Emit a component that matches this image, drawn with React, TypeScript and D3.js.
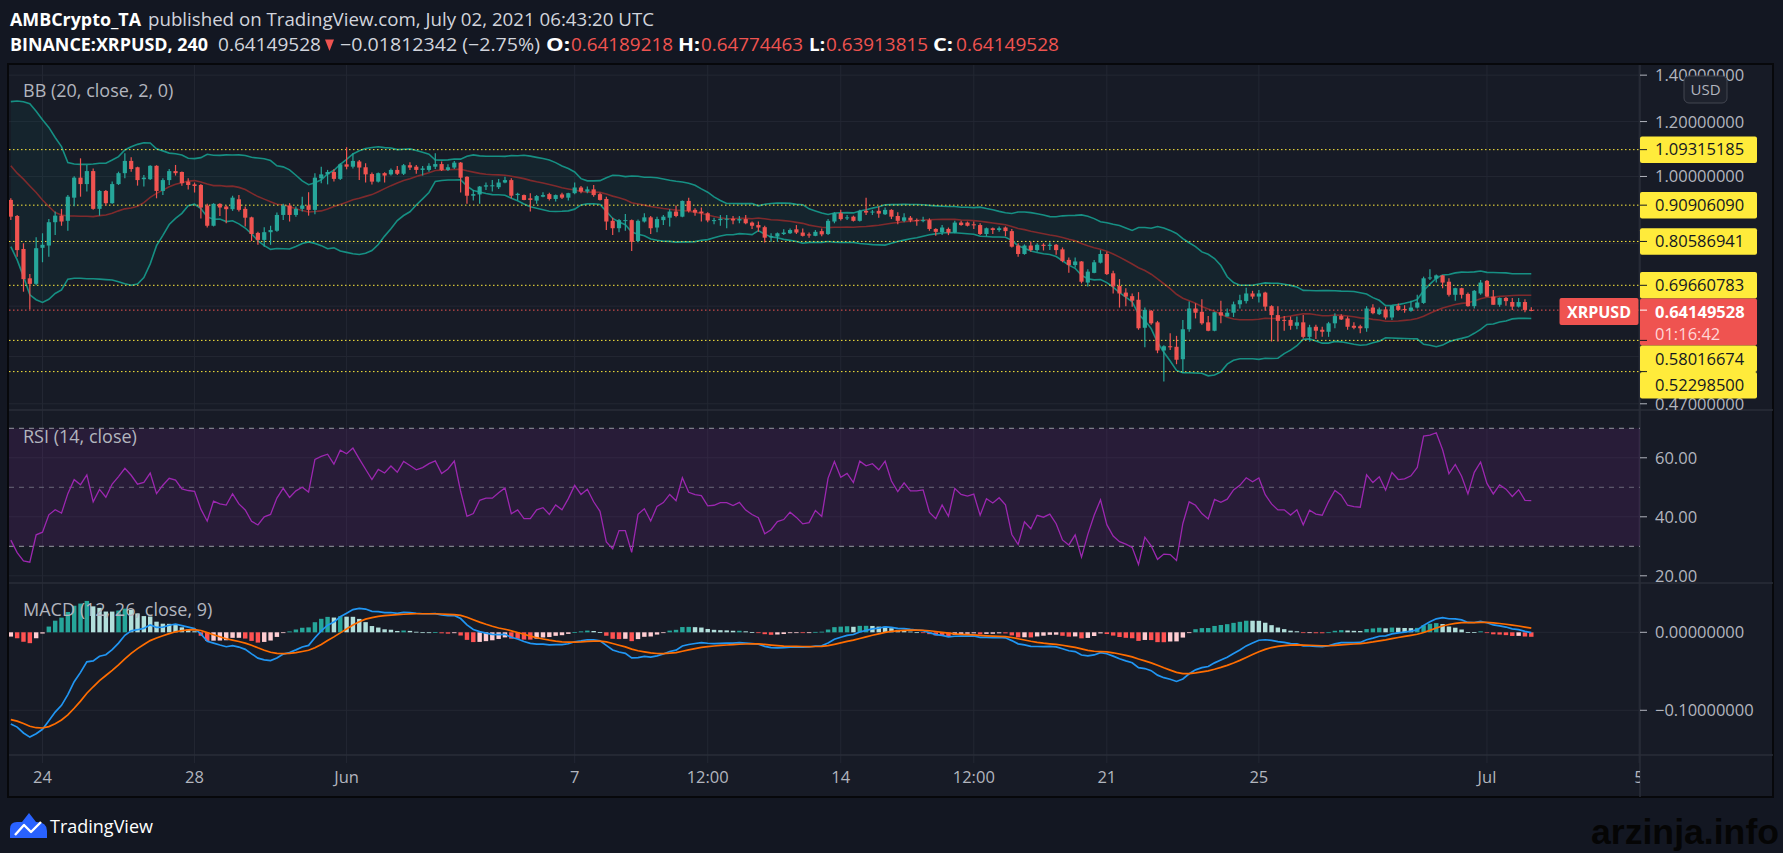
import { useEffect } from 'react';
import * as d3 from 'd3';

// XRPUSD 4h bars, first bar opens 2021-05-23 04:00 UTC
const firstBar = Date.UTC(2021, 4, 23, 4);
const barMs = 4 * 3600 * 1000;

const opens = [
  0.925, 0.877, 0.786, 0.713, 0.700, 0.789, 0.795, 0.859, 0.878, 0.863,
  0.932, 0.996, 0.975, 1.018, 0.898, 0.953, 0.915, 0.975, 1.011, 1.053,
  1.031, 0.991, 0.991, 1.036, 0.953, 0.988, 1.018, 1.015, 0.983, 0.974,
  0.972, 0.908, 0.849, 0.913, 0.905, 0.897, 0.927, 0.898, 0.873, 0.829,
  0.810, 0.831, 0.835, 0.880, 0.908, 0.880, 0.898, 0.908, 0.895, 0.994,
  1.007, 1.015, 0.992, 1.041, 1.033, 1.051, 1.031, 1.008, 0.983, 1.011,
  1.007, 1.022, 1.009, 1.038, 1.033, 1.022, 1.022, 1.033, 1.042, 1.022,
  1.030, 1.047, 0.999, 0.938, 0.942, 0.967, 0.969, 0.965, 0.980, 0.988,
  0.940, 0.940, 0.930, 0.923, 0.935, 0.943, 0.928, 0.942, 0.932, 0.946,
  0.964, 0.951, 0.958, 0.943, 0.928, 0.863, 0.842, 0.864, 0.865, 0.807,
  0.861, 0.873, 0.844, 0.865, 0.872, 0.890, 0.875, 0.922, 0.895, 0.890,
  0.885, 0.863, 0.865, 0.868, 0.869, 0.864, 0.868, 0.858, 0.851, 0.845,
  0.817, 0.819, 0.826, 0.828, 0.839, 0.830, 0.825, 0.821, 0.834, 0.826,
  0.861, 0.885, 0.870, 0.875, 0.863, 0.892, 0.887, 0.892, 0.882, 0.895,
  0.877, 0.863, 0.872, 0.865, 0.864, 0.865, 0.840, 0.831, 0.840, 0.830,
  0.858, 0.858, 0.853, 0.851, 0.826, 0.842, 0.837, 0.844, 0.834, 0.795,
  0.773, 0.795, 0.783, 0.797, 0.794, 0.797, 0.785, 0.758, 0.745, 0.754,
  0.703, 0.726, 0.751, 0.773, 0.725, 0.695, 0.680, 0.672, 0.664, 0.605,
  0.640, 0.616, 0.561, 0.569, 0.568, 0.545, 0.602, 0.645, 0.638, 0.616,
  0.599, 0.637, 0.628, 0.636, 0.654, 0.661, 0.678, 0.671, 0.680, 0.650,
  0.631, 0.621, 0.621, 0.609, 0.616, 0.587, 0.607, 0.601, 0.597, 0.614,
  0.629, 0.624, 0.609, 0.608, 0.604, 0.647, 0.633, 0.643, 0.626, 0.651,
  0.644, 0.640, 0.647, 0.657, 0.713, 0.712, 0.720, 0.705, 0.675, 0.690,
  0.677, 0.650, 0.678, 0.707, 0.671, 0.653, 0.668, 0.659, 0.649, 0.659,
  0.64189218,
];

const highs = [
  0.930, 0.880, 0.801, 0.723, 0.817, 0.828, 0.868, 0.890, 0.898, 0.940,
  1.001, 1.062, 1.039, 1.027, 0.956, 0.956, 0.983, 1.016, 1.080, 1.066,
  1.033, 1.005, 1.038, 1.038, 0.994, 1.025, 1.039, 1.017, 0.994, 0.980,
  0.975, 0.913, 0.915, 0.915, 0.908, 0.938, 0.940, 0.905, 0.875, 0.832,
  0.845, 0.849, 0.887, 0.913, 0.915, 0.905, 0.935, 0.949, 1.011, 1.033,
  1.022, 1.024, 1.045, 1.102, 1.080, 1.056, 1.045, 1.013, 1.013, 1.014,
  1.027, 1.035, 1.042, 1.048, 1.039, 1.035, 1.045, 1.080, 1.051, 1.041,
  1.053, 1.049, 1.001, 0.956, 0.969, 0.980, 0.988, 0.992, 0.999, 0.994,
  0.947, 0.942, 0.946, 0.940, 0.949, 0.947, 0.942, 0.947, 0.947, 0.980,
  0.969, 0.967, 0.972, 0.947, 0.935, 0.872, 0.868, 0.883, 0.867, 0.867,
  0.885, 0.877, 0.875, 0.880, 0.897, 0.908, 0.923, 0.932, 0.900, 0.902,
  0.888, 0.872, 0.880, 0.880, 0.877, 0.877, 0.880, 0.861, 0.861, 0.849,
  0.828, 0.830, 0.839, 0.841, 0.851, 0.841, 0.830, 0.837, 0.841, 0.868,
  0.888, 0.895, 0.880, 0.878, 0.895, 0.932, 0.895, 0.905, 0.902, 0.897,
  0.888, 0.885, 0.877, 0.870, 0.875, 0.870, 0.842, 0.851, 0.844, 0.863,
  0.863, 0.861, 0.861, 0.856, 0.844, 0.844, 0.847, 0.847, 0.840, 0.801,
  0.798, 0.805, 0.801, 0.801, 0.803, 0.799, 0.790, 0.764, 0.764, 0.755,
  0.735, 0.758, 0.783, 0.779, 0.731, 0.711, 0.690, 0.678, 0.681, 0.647,
  0.642, 0.619, 0.571, 0.594, 0.589, 0.621, 0.660, 0.656, 0.665, 0.629,
  0.638, 0.662, 0.645, 0.660, 0.675, 0.691, 0.684, 0.686, 0.682, 0.652,
  0.650, 0.629, 0.628, 0.628, 0.631, 0.611, 0.611, 0.607, 0.617, 0.635,
  0.633, 0.628, 0.616, 0.611, 0.650, 0.654, 0.647, 0.649, 0.652, 0.656,
  0.652, 0.662, 0.675, 0.717, 0.735, 0.722, 0.721, 0.713, 0.691, 0.691,
  0.680, 0.686, 0.709, 0.709, 0.686, 0.669, 0.670, 0.668, 0.668, 0.665,
  0.64774463,
];

const lows = [
  0.865, 0.766, 0.682, 0.643, 0.697, 0.752, 0.766, 0.823, 0.849, 0.835,
  0.906, 0.935, 0.951, 0.895, 0.878, 0.908, 0.913, 0.972, 0.994, 1.016,
  0.970, 0.967, 0.988, 0.930, 0.940, 0.972, 1.003, 0.970, 0.958, 0.948,
  0.870, 0.844, 0.847, 0.877, 0.856, 0.892, 0.890, 0.847, 0.807, 0.797,
  0.792, 0.797, 0.832, 0.865, 0.861, 0.875, 0.890, 0.878, 0.882, 0.978,
  0.974, 0.983, 0.988, 1.024, 1.027, 0.988, 0.980, 0.974, 0.980, 0.980,
  1.003, 1.005, 1.005, 1.022, 1.009, 1.003, 1.016, 1.025, 1.018, 1.018,
  1.025, 0.948, 0.913, 0.923, 0.913, 0.956, 0.951, 0.959, 0.978, 0.930,
  0.924, 0.924, 0.890, 0.913, 0.933, 0.923, 0.920, 0.928, 0.923, 0.943,
  0.946, 0.946, 0.935, 0.923, 0.837, 0.823, 0.831, 0.835, 0.781, 0.804,
  0.858, 0.826, 0.831, 0.851, 0.847, 0.873, 0.873, 0.887, 0.878, 0.861,
  0.859, 0.853, 0.849, 0.842, 0.853, 0.856, 0.853, 0.840, 0.832, 0.803,
  0.805, 0.805, 0.823, 0.826, 0.826, 0.819, 0.816, 0.820, 0.820, 0.823,
  0.856, 0.864, 0.865, 0.861, 0.861, 0.880, 0.880, 0.872, 0.880, 0.868,
  0.853, 0.859, 0.859, 0.849, 0.859, 0.835, 0.821, 0.823, 0.823, 0.828,
  0.849, 0.847, 0.840, 0.823, 0.820, 0.826, 0.832, 0.820, 0.790, 0.766,
  0.771, 0.779, 0.779, 0.782, 0.783, 0.771, 0.752, 0.726, 0.739, 0.701,
  0.694, 0.725, 0.749, 0.721, 0.678, 0.647, 0.650, 0.649, 0.601, 0.567,
  0.611, 0.556, 0.506, 0.562, 0.536, 0.521, 0.597, 0.624, 0.611, 0.598,
  0.598, 0.614, 0.628, 0.627, 0.645, 0.656, 0.666, 0.658, 0.640, 0.578,
  0.578, 0.599, 0.601, 0.602, 0.584, 0.578, 0.583, 0.587, 0.587, 0.604,
  0.621, 0.601, 0.602, 0.594, 0.597, 0.633, 0.631, 0.622, 0.621, 0.640,
  0.636, 0.638, 0.645, 0.655, 0.709, 0.703, 0.690, 0.671, 0.662, 0.667,
  0.649, 0.645, 0.675, 0.670, 0.653, 0.649, 0.651, 0.642, 0.647, 0.637,
  0.63913815,
];

const closes = [
  0.875, 0.783, 0.711, 0.700, 0.788, 0.797, 0.859, 0.878, 0.861, 0.935,
  0.996, 0.975, 1.018, 0.898, 0.953, 0.915, 0.975, 1.011, 1.053, 1.025,
  0.988, 0.996, 1.036, 0.953, 0.988, 1.018, 1.011, 0.978, 0.972, 0.969,
  0.902, 0.849, 0.913, 0.902, 0.897, 0.932, 0.895, 0.872, 0.826, 0.810,
  0.831, 0.837, 0.880, 0.908, 0.880, 0.898, 0.908, 0.895, 0.996, 1.007,
  1.015, 0.992, 1.041, 1.033, 1.053, 1.030, 1.007, 0.983, 1.011, 1.003,
  1.022, 1.009, 1.038, 1.030, 1.022, 1.027, 1.036, 1.042, 1.022, 1.031,
  1.047, 0.996, 0.938, 0.943, 0.967, 0.971, 0.971, 0.980, 0.988, 0.938,
  0.944, 0.925, 0.925, 0.937, 0.940, 0.928, 0.940, 0.932, 0.946, 0.964,
  0.951, 0.958, 0.940, 0.925, 0.861, 0.842, 0.865, 0.865, 0.805, 0.863,
  0.873, 0.842, 0.868, 0.875, 0.890, 0.877, 0.922, 0.892, 0.887, 0.885,
  0.864, 0.865, 0.869, 0.869, 0.864, 0.868, 0.856, 0.849, 0.844, 0.816,
  0.820, 0.828, 0.830, 0.837, 0.830, 0.821, 0.822, 0.832, 0.825, 0.863,
  0.885, 0.868, 0.873, 0.863, 0.892, 0.887, 0.890, 0.884, 0.895, 0.875,
  0.863, 0.873, 0.864, 0.864, 0.865, 0.840, 0.832, 0.844, 0.830, 0.858,
  0.851, 0.849, 0.851, 0.826, 0.842, 0.837, 0.842, 0.834, 0.792, 0.773,
  0.795, 0.783, 0.797, 0.794, 0.797, 0.783, 0.755, 0.745, 0.754, 0.705,
  0.729, 0.752, 0.773, 0.723, 0.694, 0.678, 0.671, 0.662, 0.604, 0.642,
  0.614, 0.561, 0.569, 0.567, 0.544, 0.602, 0.645, 0.636, 0.614, 0.599,
  0.637, 0.630, 0.636, 0.654, 0.663, 0.678, 0.671, 0.678, 0.649, 0.631,
  0.619, 0.619, 0.609, 0.616, 0.587, 0.606, 0.599, 0.597, 0.614, 0.629,
  0.622, 0.607, 0.605, 0.604, 0.645, 0.635, 0.643, 0.626, 0.651, 0.642,
  0.643, 0.647, 0.658, 0.713, 0.715, 0.720, 0.703, 0.675, 0.690, 0.675,
  0.650, 0.684, 0.703, 0.671, 0.653, 0.668, 0.661, 0.649, 0.659, 0.64189218,
  0.64149528,
];

// Bollinger values for the first 19 bars (window starts before the visible range)
const bbHeadUpper = [
  1.282, 1.285, 1.282, 1.273, 1.242, 1.207, 1.177, 1.138, 1.104, 1.047,
  1.042, 1.041, 1.041, 1.042, 1.045, 1.045, 1.056, 1.068, 1.092,
];
const bbHeadBasis = [
  1.036, 1.011, 0.991, 0.969, 0.948, 0.925, 0.905, 0.887, 0.880, 0.877,
  0.877, 0.876, 0.876, 0.875, 0.878, 0.880, 0.885, 0.892, 0.898,
];
const bbHeadLower = [
  0.792, 0.758, 0.717, 0.675, 0.664, 0.658, 0.665, 0.678, 0.686, 0.711,
  0.713, 0.713, 0.712, 0.712, 0.711, 0.710, 0.709, 0.705, 0.700,
];

// indicator state just before the first visible bar
const macdSeed = { fast: 0.955, slow: 1.075, signal: -0.1106 };
const rsiSeed = { gain: 0.016, loss: 0.03, prevClose: 0.925 };

const levels = [1.09315185, 0.9090609, 0.80586941, 0.69660783, 0.58016674, 0.522985];
const lastPrice = 0.64149528;
const priceTicks = [1.4, 1.2, 1.0, 0.47];
const priceGrid = [1.4, 1.2, 1.0, 0.8, 0.65, 0.55, 0.47];
const rsiTicks = [60, 40, 20];
const macdTicks = [0, -0.1];
const timeTicks = [
  Date.UTC(2021, 4, 24), Date.UTC(2021, 4, 28), Date.UTC(2021, 5, 1), Date.UTC(2021, 5, 7),
  Date.UTC(2021, 5, 10, 12), Date.UTC(2021, 5, 14), Date.UTC(2021, 5, 17, 12), Date.UTC(2021, 5, 21),
  Date.UTC(2021, 5, 25), Date.UTC(2021, 6, 1), Date.UTC(2021, 6, 5),
];
const timeLabels = ['24', '28', 'Jun', '7', '12:00', '14', '12:00', '21', '25', 'Jul', '5'];

// header pieces: [text, x, width, bold, color]
const headerLine1: [string, number, number, boolean, string][] = [
  ['AMBCrypto_TA', 10, 131, true, '#ffffff'],
  ['published on TradingView.com, July 02, 2021 06:43:20 UTC', 148, 506, false, '#d1d4dc'],
];
const headerLine2: [string, number, number, boolean, string][] = [
  ['BINANCE:XRPUSD, 240', 10, 198, true, '#ffffff'],
  ['0.64149528', 218, 103, false, '#d1d4dc'],
  ['\u22120.01812342 (\u22122.75%)', 340, 200, false, '#d1d4dc'],
  ['O:', 546, 24, true, '#ffffff'],
  ['0.64189218', 571, 102, false, '#ef5350'],
  ['H:', 678, 22, true, '#ffffff'],
  ['0.64774463', 701, 102, false, '#ef5350'],
  ['L:', 809, 16, true, '#ffffff'],
  ['0.63913815', 826, 102, false, '#ef5350'],
  ['C:', 933, 20, true, '#ffffff'],
  ['0.64149528', 956, 103, false, '#ef5350'],
];

const W = 1783;
const H = 853;
const plotL = 9;
const plotR = 1640;
const axisR = 1773;
const pricePane = { top: 65, bottom: 410 };
const rsiPane = { top: 410, bottom: 583 };
const macdPane = { top: 583, bottom: 755 };
const timeBottom = 797;

const UP = '#26a69a';
const DOWN = '#ef5350';
const GRID = '#232733';
const SEP = '#2a2e39';
const TXT = '#b2b5be';
const FONT = "'Open Sans', sans-serif";

const fmt8 = (v: number) => (v < 0 ? '\u2212' + Math.abs(v).toFixed(8) : v.toFixed(8));

export default function App() {
  useEffect(() => {
    document.body.style.margin = '0';
    document.body.style.background = '#131722';
  }, []);

  const x = d3
    .scaleUtc()
    .domain([new Date(Date.UTC(2021, 4, 24)), new Date(Date.UTC(2021, 6, 5))])
    .range([42.5, 1639]);
  const barX = (i: number) => x(new Date(firstBar + i * barMs));
  const step = x(new Date(firstBar + barMs)) - x(new Date(firstBar));

  const y = d3.scaleLog().domain([0.4604, 1.448]).range([pricePane.bottom, pricePane.top]);
  const yRsi = d3.scaleLinear().domain([17.56, 76.2]).range([rsiPane.bottom, rsiPane.top]);
  const yMacd = d3.scaleLinear().domain([-0.1573, 0.0632]).range([macdPane.bottom, macdPane.top]);

  // Bollinger bands (20, 2)
  const bb = closes.map((c, i) => {
    if (i < bbHeadBasis.length) return { u: bbHeadUpper[i], m: bbHeadBasis[i], l: bbHeadLower[i] };
    const w = closes.slice(i - 19, i + 1);
    const m = d3.mean(w) as number;
    const sd = Math.sqrt(d3.mean(w, (v) => (v - m) ** 2) as number);
    return { u: m + 2 * sd, m, l: m - 2 * sd };
  });

  // RSI 14 (Wilder)
  let g = rsiSeed.gain;
  let lo = rsiSeed.loss;
  let prev = rsiSeed.prevClose;
  const rsi = closes.map((c) => {
    const ch = c - prev;
    prev = c;
    g = (g * 13 + Math.max(ch, 0)) / 14;
    lo = (lo * 13 + Math.max(-ch, 0)) / 14;
    return 100 - 100 / (1 + g / lo);
  });

  // MACD 12/26/9
  let f = macdSeed.fast;
  let s = macdSeed.slow;
  let sig = macdSeed.signal;
  let prevHist = f - s - sig;
  const macd = closes.map((c) => {
    f += ((c - f) * 2) / 13;
    s += ((c - s) * 2) / 27;
    const m = f - s;
    sig += (m - sig) * 0.2;
    const h = m - sig;
    const r = { m, sig, h, ph: prevHist };
    prevHist = h;
    return r;
  });
  const histColor = (d: { h: number; ph: number }) =>
    d.h >= 0 ? (d.h > d.ph ? '#26a69a' : '#b2dfdb') : d.h > d.ph ? '#ffcdd2' : '#ff5252';

  const idx = closes.map((_, i) => i);
  const line = (fn: (i: number) => number) =>
    d3
      .line<number>()
      .x((i) => barX(i))
      .y(fn)(idx) as string;
  const bandArea = d3
    .area<number>()
    .x((i) => barX(i))
    .y0((i) => y(bb[i].l))
    .y1((i) => y(bb[i].u))(idx) as string;

  const bodyW = step * 0.66;

  // right-axis labels, pushed down when they overlap
  const labels = [
    ...levels.map((v) => ({ v, h: 26.5, red: false })),
    { v: lastPrice, h: 47, red: true },
  ].sort((a, b) => b.v - a.v);
  let lastBottom = -Infinity;
  const placed = labels.map((lb) => {
    const top = Math.max(y(lb.v) - 13.25, lastBottom);
    lastBottom = top + lb.h;
    return { ...lb, top };
  });

  const headerText = (row: [string, number, number, boolean, string][], yy: number, key: string) =>
    row.map(([t, hx, wd, bold, col], k) => (
      <text
        key={key + k}
        x={hx}
        y={yy}
        fontSize={18}
        fontWeight={bold ? 'bold' : 'normal'}
        fill={col}
        textLength={wd}
        lengthAdjust="spacingAndGlyphs"
      >
        {t}
      </text>
    ));

  return (
    <svg width={W} height={H} style={{ display: 'block', background: '#131722' }} fontFamily={FONT}>
      <defs>
        <clipPath id="cp-price">
          <rect x={plotL} y={pricePane.top} width={plotR - plotL} height={pricePane.bottom - pricePane.top} />
        </clipPath>
        <clipPath id="cp-rsi">
          <rect x={plotL} y={rsiPane.top} width={plotR - plotL} height={rsiPane.bottom - rsiPane.top} />
        </clipPath>
        <clipPath id="cp-macd">
          <rect x={plotL} y={macdPane.top} width={plotR - plotL} height={macdPane.bottom - macdPane.top} />
        </clipPath>
        <clipPath id="cp-time">
          <rect x={plotL} y={macdPane.bottom} width={plotR - plotL} height={timeBottom - macdPane.bottom} />
        </clipPath>
        <clipPath id="cp-paxis">
          <rect x={plotR} y={pricePane.top} width={axisR - plotR} height={pricePane.bottom - pricePane.top} />
        </clipPath>
      </defs>

      {/* header */}
      {headerText(headerLine1, 26, 'h1-')}
      {headerText(headerLine2, 51, 'h2-')}
      <path d="M325 39.5 L334 39.5 L329.5 51 Z" fill={DOWN} />

      {/* frame + pane backgrounds */}
      <rect x={8} y={64} width={axisR - 8} height={timeBottom - 64} fill="#171b26" stroke="#07080b" strokeWidth={2} />

      {/* grid */}
      <g stroke={GRID} strokeWidth={1}>
        {timeTicks.map((t, k) => (
          <line key={'vg' + k} x1={x(new Date(t))} x2={x(new Date(t))} y1={pricePane.top} y2={macdPane.bottom + 8} />
        ))}
        {priceGrid.map((v) => (
          <line key={'pg' + v} x1={plotL} x2={plotR} y1={y(v)} y2={y(v)} />
        ))}
        {rsiTicks.map((v) => (
          <line key={'rg' + v} x1={plotL} x2={plotR} y1={yRsi(v)} y2={yRsi(v)} />
        ))}
        {macdTicks.map((v) => (
          <line key={'mg' + v} x1={plotL} x2={plotR} y1={yMacd(v)} y2={yMacd(v)} />
        ))}
      </g>

      {/* pane separators */}
      <g stroke={SEP} strokeWidth={1.5}>
        <line x1={plotL} x2={axisR} y1={rsiPane.top} y2={rsiPane.top} />
        <line x1={plotL} x2={axisR} y1={macdPane.top} y2={macdPane.top} />
        <line x1={plotL} x2={axisR} y1={macdPane.bottom} y2={macdPane.bottom} />
        <line x1={plotR} x2={plotR} y1={pricePane.top} y2={timeBottom} />
      </g>

      {/* price pane */}
      <g clipPath="url(#cp-price)">
        <path d={bandArea} fill="rgba(0,150,136,0.07)" />
        <path d={line((i) => y(bb[i].u))} fill="none" stroke="#168f83" strokeWidth={1.6} />
        <path d={line((i) => y(bb[i].l))} fill="none" stroke="#168f83" strokeWidth={1.6} />
        <path d={line((i) => y(bb[i].m))} fill="none" stroke="#7f2a2c" strokeWidth={1.6} />

        {levels.map((v) => (
          <line key={'lv' + v} x1={plotL} x2={plotR} y1={y(v)} y2={y(v)} stroke="#ffeb3b" strokeWidth={1} strokeDasharray="1.5,2.5" />
        ))}
        <line x1={plotL} x2={plotR} y1={y(lastPrice)} y2={y(lastPrice)} stroke={DOWN} strokeWidth={1} strokeDasharray="1.5,2.5" />

        {idx.map((i) => {
          const up = closes[i] >= opens[i];
          const col = up ? UP : DOWN;
          const cx = barX(i);
          const top = y(Math.max(opens[i], closes[i]));
          const bot = y(Math.min(opens[i], closes[i]));
          return (
            <g key={'c' + i}>
              <line x1={cx} x2={cx} y1={y(highs[i])} y2={y(lows[i])} stroke={col} strokeWidth={1.2} />
              <rect x={cx - bodyW / 2} y={top} width={bodyW} height={Math.max(bot - top, 1)} fill={col} />
            </g>
          );
        })}
      </g>
      <text x={23} y={97} fontSize={18} fill={TXT}>BB (20, close, 2, 0)</text>

      {/* RSI pane */}
      <g clipPath="url(#cp-rsi)">
        <rect x={plotL} y={yRsi(70)} width={plotR - plotL} height={yRsi(30) - yRsi(70)} fill="rgba(156,39,176,0.13)" />
        <line x1={plotL} x2={plotR} y1={yRsi(70)} y2={yRsi(70)} stroke="#9598a1" strokeDasharray="5,5" />
        <line x1={plotL} x2={plotR} y1={yRsi(50)} y2={yRsi(50)} stroke="#787b86" strokeOpacity={0.8} strokeDasharray="5,5" />
        <line x1={plotL} x2={plotR} y1={yRsi(30)} y2={yRsi(30)} stroke="#9598a1" strokeDasharray="5,5" />
        <path d={line((i) => yRsi(rsi[i]))} fill="none" stroke="#9c27b0" strokeWidth={1.3} />
      </g>
      <text x={23} y={443} fontSize={18} fill={TXT}>RSI (14, close)</text>

      {/* MACD pane */}
      <g clipPath="url(#cp-macd)">
        {idx.map((i) => {
          const d = macd[i];
          const y0 = yMacd(0);
          const y1 = yMacd(d.h);
          return (
            <rect key={'h' + i} x={barX(i) - step * 0.35} y={Math.min(y0, y1)} width={step * 0.7} height={Math.max(Math.abs(y1 - y0), 0.8)} fill={histColor(d)} />
          );
        })}
        <path d={line((i) => yMacd(macd[i].m))} fill="none" stroke="#2196f3" strokeWidth={1.7} />
        <path d={line((i) => yMacd(macd[i].sig))} fill="none" stroke="#ff6d00" strokeWidth={1.7} />
      </g>
      <text x={23} y={616} fontSize={18} fill={TXT}>MACD (12, 26, close, 9)</text>

      {/* time axis */}
      <g clipPath="url(#cp-time)">
        {timeTicks.map((t, k) => (
          <text key={'tl' + k} x={x(new Date(t))} y={783} fontSize={16.5} fill={TXT} textAnchor="middle">
            {timeLabels[k]}
          </text>
        ))}
      </g>

      {/* price axis */}
      <g clipPath="url(#cp-paxis)">
        {priceTicks.map((v) => (
          <g key={'pt' + v}>
            <line x1={plotR} x2={plotR + 7} y1={y(v)} y2={y(v)} stroke={TXT} />
            <text x={1655} y={y(v) + 6} fontSize={16.5} fill={TXT}>{fmt8(v)}</text>
          </g>
        ))}
      </g>
      {rsiTicks.map((v) => (
        <g key={'rt' + v}>
          <line x1={plotR} x2={plotR + 7} y1={yRsi(v)} y2={yRsi(v)} stroke={TXT} />
          <text x={1655} y={yRsi(v) + 6} fontSize={16.5} fill={TXT}>{v.toFixed(2)}</text>
        </g>
      ))}
      {macdTicks.map((v) => (
        <g key={'mt' + v}>
          <line x1={plotR} x2={plotR + 7} y1={yMacd(v)} y2={yMacd(v)} stroke={TXT} />
          <text x={1655} y={yMacd(v) + 6} fontSize={16.5} fill={TXT}>{fmt8(v)}</text>
        </g>
      ))}

      {/* USD badge */}
      <rect x={1684} y={76} width={43} height={27} rx={5} fill="#1e222d" stroke="#434651" />
      <text x={1705.5} y={95} fontSize={15} fill={TXT} textAnchor="middle">USD</text>

      {/* level labels on the axis */}
      {placed.map((lb) =>
        lb.red ? (
          <g key={'lb' + lb.v}>
            <rect x={plotR} y={lb.top} width={117} height={lb.h} rx={2} fill={DOWN} />
            <line x1={plotR} x2={plotR + 7} y1={y(lb.v)} y2={y(lb.v)} stroke="#ffffff" />
            <text x={1655} y={lb.top + 19} fontSize={16.5} fontWeight="bold" fill="#ffffff">{fmt8(lb.v)}</text>
            <text x={1655} y={lb.top + 41} fontSize={16.5} fill="#ffd6d6">01:16:42</text>
          </g>
        ) : (
          <g key={'lb' + lb.v}>
            <rect x={plotR} y={lb.top} width={117} height={lb.h} rx={2} fill="#ffeb3b" />
            <line x1={plotR} x2={plotR + 7} y1={y(lb.v)} y2={y(lb.v)} stroke="#131722" />
            <text x={1655} y={lb.top + 19} fontSize={16.5} fill="#131722">{fmt8(lb.v)}</text>
          </g>
        )
      )}

      {/* symbol tag */}
      <rect x={1559.5} y={298} width={79} height={27} rx={2} fill={DOWN} />
      <text x={1599} y={317.5} fontSize={16} fontWeight="bold" fill="#ffffff" textAnchor="middle">XRPUSD</text>

      {/* footer */}
      <path d="M10 838 L10 829 Q10 822 17 822 L22 822 L29 813 L36 822 Q47 822 47 831 L47 838 Z" fill="#2962ff" />
      <path d="M15 835 L24 825 L31 832 L41 822" fill="none" stroke="#ffffff" strokeWidth={2.4} strokeLinejoin="round" />
      <text x={50} y={833} fontSize={18} fill="#ffffff">TradingView</text>
      <text
        x={1591}
        y={844}
        fontSize={35}
        fontWeight={900}
        fontFamily="'Liberation Sans', Arial, sans-serif"
        fill="#050505"
        textLength={188}
        lengthAdjust="spacingAndGlyphs"
      >
        arzinja.info
      </text>
    </svg>
  );
}
